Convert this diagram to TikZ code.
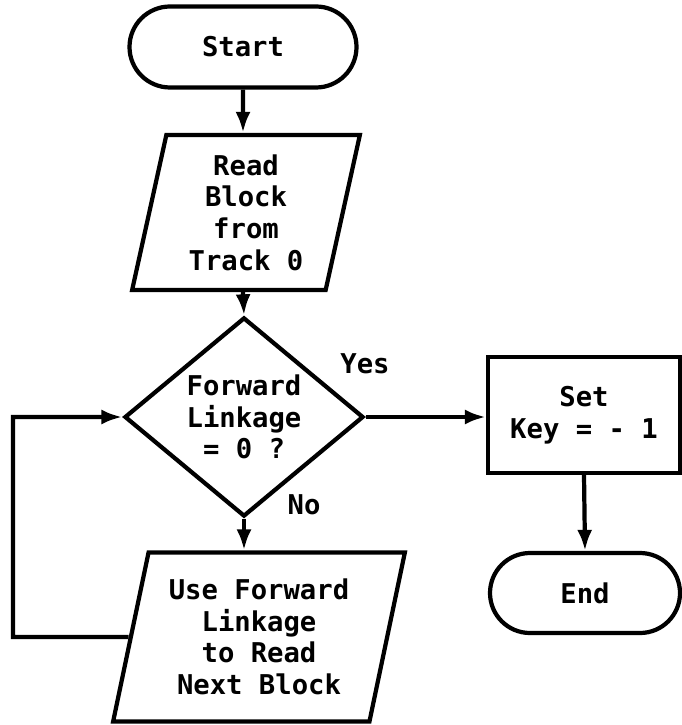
\documentclass[tikz,border=0pt]{standalone}
\usepackage{fontspec}
\setmonofont{DejaVu Sans Mono}
\usetikzlibrary{shapes.geometric,shapes.misc,arrows.meta}
\tikzset{
  term/.style={draw,rounded rectangle,minimum width=#1,minimum height=1.62cm,inner sep=0pt},
  io/.style={draw,trapezium,trapezium stretches=true,trapezium left angle=#1,trapezium right angle=180-#1,align=center,inner sep=0pt},
  proc/.style={draw,rectangle,align=center,minimum width=3.84cm,minimum height=2.32cm},
  dec/.style={draw,diamond,align=center,inner sep=0pt,minimum width=4.78cm,minimum height=3.34cm},
}
\begin{document}
\begin{tikzpicture}[line width=2.4pt,>={Latex[length=0.42cm,width=0.3cm]},
  font=\ttfamily\bfseries\fontsize{15.5}{18}\selectfont]
	      \useasboundingbox (0,0) rectangle (13.62,-14.5);
	      \node[term=4.54cm] (start) at (4.86,-0.94) {Start};
	      \node[io=78,minimum width=4.56cm,minimum height=3.1cm] (read) at (4.92,-4.25) {Read\\Block\\from\\Track 0};
	      \node[dec] (test) at (4.88,-8.34) {Forward\\Linkage\\= 0 ?};
	      \node[io=76,minimum width=5.84cm,minimum height=3.38cm] (next) at (5.18,-12.74) {Use Forward\\Linkage\\to Read\\Next Block};
	      \node[proc] (set) at (11.68,-8.3) {Set\\Key = - 1};
	      \node[term=3.8cm,minimum height=1.6cm] (end) at (11.7,-11.86) {End};
	      \node (yes) at (7.3,-7.28) {Yes};
	      \node (no) at (6.08,-10.1) {No};
	      \coordinate (loop) at (0.26,-12.74);
	      % main line
	      \draw[->] (start) -- (start |- read.north);
	      \draw[->] (start |- read.south) -- (test.north);
	      \draw[->] (test.south) -- (test.south |- next.north);
	      \draw[->] (test.east) -- (test.east -| set.west);
	      \draw[->] (set.south) -- (end.north);
	      % back to the test
	      \draw[->] (next.west) -- (loop) |- (test.west);
\end{tikzpicture}
\end{document}
